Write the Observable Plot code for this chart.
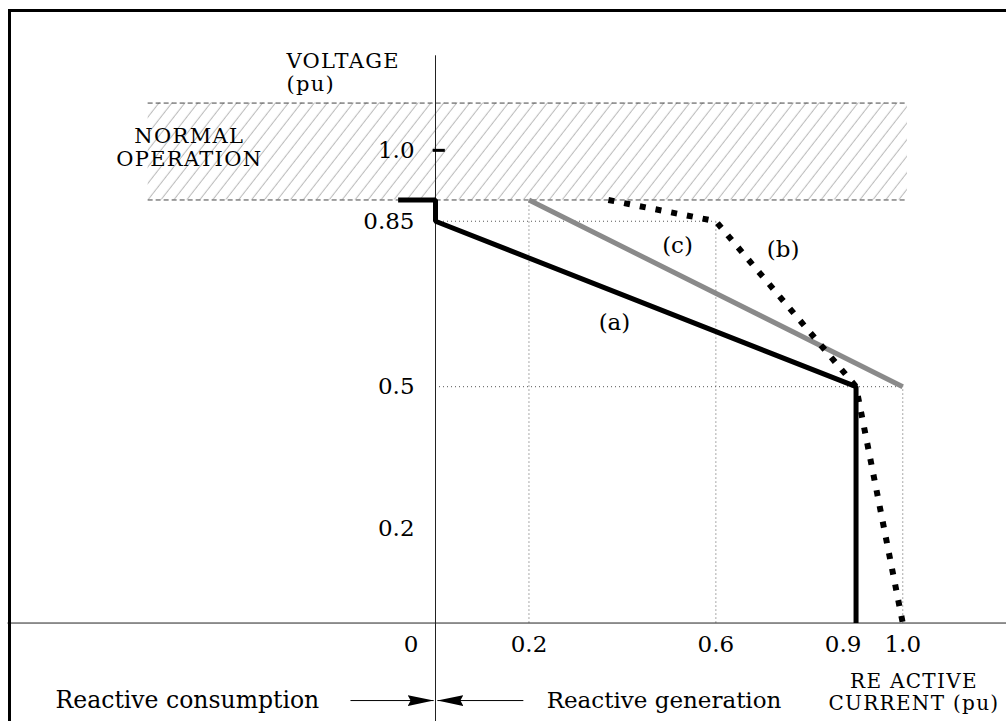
<!DOCTYPE html>
<html>
<head>
<meta charset="utf-8">
<script src="https://cdn.jsdelivr.net/npm/d3@7"></script>
<script src="https://cdn.jsdelivr.net/npm/@observablehq/plot@0.6"></script>
<style>
  body { margin: 0; background: #fff; }
  #wrap { position: relative; width: 1006px; height: 721px; overflow: hidden; background: #fff; }
  #wrap svg { position: absolute; left: 0; top: 0; }
  #frame { position: absolute; left: 8px; top: 9px; width: 1010px; height: 730px;
           border-left: 3px solid #000; border-top: 3px solid #000; pointer-events: none; }
</style>
</head>
<body>
<div id="wrap"><div id="frame"></div></div>
<script>
// ---- data (reactive current I in pu, voltage V in pu) ----
const curveA_I = [-0.08, 0, 0, 0.9, 0.9];
const curveA_V = [0.895, 0.895, 0.85, 0.5, 0];
const curveB_I = [0.37, 0.6, 0.9, 1.0];
const curveB_V = [0.895, 0.85, 0.5, 0];
const curveC_I = [0.2, 1.0];
const curveC_V = [0.895, 0.5];
const bandV = [0.895, 1.1];          // normal operation band
const bandI = [-0.615, 1.01];
const xTicks = [0, 0.2, 0.6, 0.9, 1.0];
const xTickLabels = ["0", "0.2", "0.6", "0.9", "1.0"];
const yTicks = [1.0, 0.85, 0.5, 0.2];
const yTickLabels = ["1.0", "0.85", "0.5", "0.2"];
const hGridV = [0.85, 0.5];
const hGridIEnd = [0.6, 1.0];
const vGridI = [0.2, 0.6, 1.0];
const vGridVTop = [0.895, 0.85, 0.5];
const curveLabels = ["(a)", "(b)", "(c)"];
const curveLabelI = [0.383, 0.744, 0.518];
const curveLabelV = [0.636, 0.79, 0.798];
const capsTitles = ["VOLTAGE\n(pu)", "NORMAL\nOPERATION", "RE ACTIVE\nCURRENT (pu)"];

// ---- layout ----
const xDomain = [-0.931, 1.222];
const yDomain = [-0.2083, 1.317];
const serif = "DejaVu Serif";
const zip = (xs, ys) => xs.map((x, i) => ({x, y: ys[i]}));

const xLabelDx = [-17, 0, 0, -13, 0];
const xLabelAnchor = ["end", "middle", "middle", "middle", "middle"];

const marks = [
  // hatched normal-operation band
  Plot.rect([0], {x1: bandI[0], x2: bandI[1], y1: bandV[0], y2: bandV[1], fill: "url(#hatch)"}),
  Plot.ruleY(bandV, {x1: bandI[0], x2: bandI[1], stroke: "#444", strokeWidth: 1, strokeDasharray: "5,3"}),
  // dotted guides
  Plot.ruleY(hGridV, {y: d => d, x1: 0, x2: (d, i) => hGridIEnd[i], stroke: "#555", strokeWidth: 1, strokeDasharray: "1,3"}),
  Plot.ruleX(vGridI, {x: d => d, y1: 0, y2: (d, i) => vGridVTop[i], stroke: "#555", strokeWidth: 1, strokeDasharray: "1,3"}),
  // axes
  Plot.ruleX([0], {y1: yDomain[0], y2: 1.2, stroke: "#222", strokeWidth: 1}),
  Plot.ruleY([0], {x1: -0.915, x2: xDomain[1], stroke: "#222", strokeWidth: 1}),
  Plot.ruleY([1.0], {x1: -0.005, x2: 0.021, stroke: "#000", strokeWidth: 3}),
  // curves
  Plot.line(zip(curveC_I, curveC_V), {x: "x", y: "y", stroke: "#8a8a8a", strokeWidth: 5, strokeLinecap: "butt"}),
  Plot.line(zip(curveA_I, curveA_V), {x: "x", y: "y", stroke: "#000", strokeWidth: 5, strokeLinecap: "butt", strokeLinejoin: "miter"}),
  Plot.line(zip(curveB_I, curveB_V), {x: "x", y: "y", stroke: "#000", strokeWidth: 6, strokeLinecap: "butt", strokeDasharray: "6,10"}),
  // curve labels
  Plot.text(curveLabels, {x: (d, i) => curveLabelI[i], y: (d, i) => curveLabelV[i], text: d => d,
    fontFamily: serif, fontSize: 23, fill: "#000"}),
  // y tick labels
  Plot.text(yTicks, {x: 0, y: d => d, text: (d, i) => yTickLabels[i], textAnchor: "end", dx: -21,
    fontFamily: serif, fontSize: 23, fill: "#000"}),
  // x tick labels
  ...xTicks.map((t, i) => Plot.text([t], {x: d => d, y: 0, text: () => xTickLabels[i], dy: 22,
    dx: xLabelDx[i], textAnchor: xLabelAnchor[i], fontFamily: serif, fontSize: 23, fill: "#000"})),
  // axis titles and annotations
  Plot.text([capsTitles[0]], {x: -0.319, y: 1.165, text: d => d, textAnchor: "start", lineHeight: 1.08,
    fontFamily: serif, fontSize: 21, fill: "#000"}),
  Plot.text([capsTitles[1]], {x: -0.527, y: 1.007, text: d => d, lineHeight: 1.1,
    fontFamily: serif, fontSize: 21, fill: "#000"}),
  Plot.text([capsTitles[2]], {x: 1.024, y: -0.146, text: d => d, lineHeight: 1.1,
    fontFamily: serif, fontSize: 20, fill: "#000"}),
  Plot.text(["Reactive consumption"], {x: -0.531, y: -0.164, text: d => d,
    fontFamily: serif, fontSize: 23.5, fill: "#000"}),
  Plot.text(["Reactive generation"], {x: 0.489, y: -0.164, text: d => d,
    fontFamily: serif, fontSize: 23, fill: "#000"}),
  // arrows toward the origin
  Plot.link([{x1: -0.182, x2: -0.004}, {x1: 0.188, x2: 0.004}], {x1: "x1", x2: "x2", y1: -0.164, y2: -0.164,
    stroke: "#000", strokeWidth: 1})
];

const chart = Plot.plot({
  width: 1006,
  height: 721,
  margin: 0,
  x: {domain: xDomain, axis: null},
  y: {domain: yDomain, axis: null},
  style: {background: "transparent", fontFamily: serif},
  marks
});

const svg = d3.select(chart);
const defs = svg.insert("defs", ":first-child");
const pat = defs.append("pattern")
  .attr("id", "hatch")
  .attr("patternUnits", "userSpaceOnUse")
  .attr("width", 10.2).attr("height", 10)
  .attr("patternTransform", "rotate(38)");
pat.append("line").attr("x1", 5).attr("x2", 5).attr("y1", -1).attr("y2", 11)
  .attr("stroke", "#b8b8b8").attr("stroke-width", 1);
defs.append("marker")
  .attr("id", "tri")
  .attr("markerUnits", "userSpaceOnUse")
  .attr("viewBox", "0 -6 26 12")
  .attr("refX", 26).attr("refY", 0)
  .attr("markerWidth", 26).attr("markerHeight", 12)
  .attr("orient", "auto")
  .append("path").attr("d", "M0,-5.5L26,0L0,5.5L3,0Z").attr("fill", "#000");
svg.selectAll('g[aria-label="link"] path').attr("marker-end", "url(#tri)");
const capsWords = ["VOLTAGE", "NORMAL", "ACTIVE"];
svg.selectAll("text")
  .filter(function() { const t = this.textContent; return capsWords.some(w => t.includes(w)); })
  .style("letter-spacing", "1.3px");

document.getElementById("wrap").insertBefore(chart, document.getElementById("frame"));
</script>
</body>
</html>
